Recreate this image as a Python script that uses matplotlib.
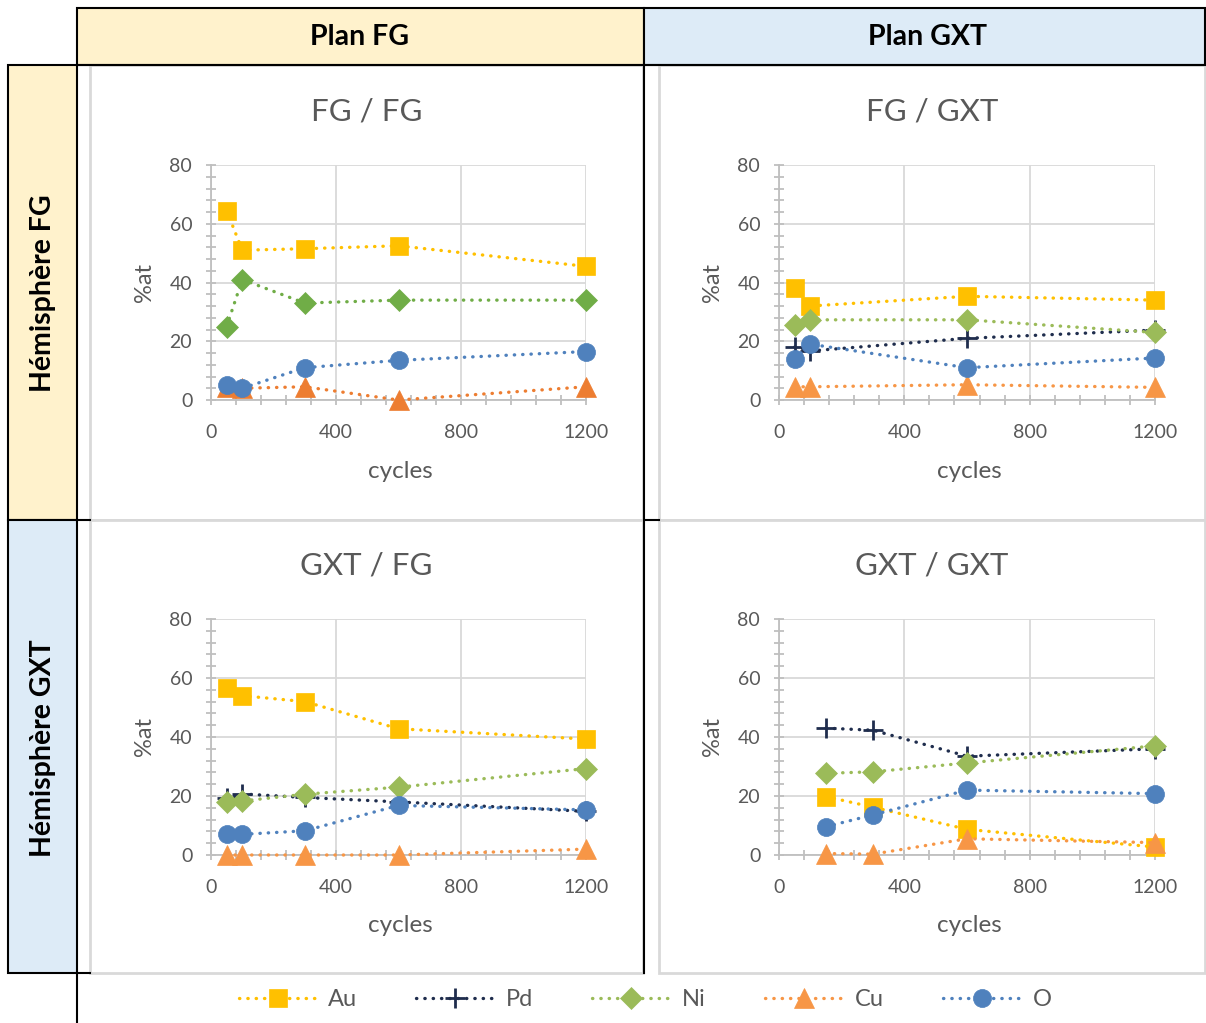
import matplotlib
matplotlib.use('Agg')
import matplotlib.pyplot as plt
from matplotlib.patches import Rectangle
from matplotlib.lines import Line2D
from matplotlib.ticker import MultipleLocator

plt.rcParams['font.family'] = ['Lato', 'DejaVu Sans']

# cycles for each panel
x_fgfg = [50, 100, 300, 600, 1200]
x_fggxt = [50, 100, 600, 1200]
x_gxtfg = [50, 100, 300, 600, 1200]
x_gxtgxt = [150, 300, 600, 1200]

# %at values
au_fgfg = [64.5, 51, 51.5, 52.5, 45.5]
ni_fgfg = [25, 41, 33, 34, 34]
cu_fgfg = [4.5, 4, 4.5, 0, 4.5]
o_fgfg = [5, 4, 11, 13.5, 16.5]

au_fggxt = [38, 32, 35.3, 34]
pd_fggxt = [18, 16.7, 21, 23.8]
ni_fggxt = [25.5, 27.3, 27.3, 23]
cu_fggxt = [4.5, 4.5, 5.2, 4.3]
o_fggxt = [14, 19, 11, 14.3]

au_gxtfg = [56.5, 54, 52, 42.8, 39.3]
pd_gxtfg = [19.2, 20.7, 19.5, 18, 14.8]
ni_gxtfg = [18.1, 18.3, 20.6, 23, 29.3]
cu_gxtfg = [0, 0, 0, 0, 2]
o_gxtfg = [7, 7, 8.2, 16.8, 15.3]

au_gxtgxt = [19.8, 16.2, 8.7, 2.7]
pd_gxtgxt = [43, 42.3, 33.5, 36]
ni_gxtgxt = [27.7, 28.2, 31.2, 37]
cu_gxtgxt = [0.5, 0.3, 5.5, 4.2]
o_gxtgxt = [9.6, 13.6, 22, 20.8]

titles = ['FG / FG', 'FG / GXT', 'GXT / FG', 'GXT / GXT']
col_headers = ['Plan FG', 'Plan GXT']
row_headers = ['Hémisphère FG', 'Hémisphère GXT']
elements = ['Au', 'Pd', 'Ni', 'Cu', 'O']

W, H = 1206, 1023
fig = plt.figure(figsize=(W / 100, H / 100), dpi=100)

# background "table" drawn in pixel coordinates
bg = fig.add_axes([0, 0, 1, 1])
bg.set_xlim(0, W)
bg.set_ylim(H, 0)
bg.axis('off')

yellow = '#FFF2CC'
blue = '#DDEBF7'
gray_border = '#D9D9D9'


def rect(x0, y0, x1, y1, fc, ec, lw):
    bg.add_patch(Rectangle((x0, y0), x1 - x0, y1 - y0, facecolor=fc,
                           edgecolor=ec, linewidth=lw))


rect(77, 8, 644, 65, yellow, 'black', 1.5)
rect(644, 8, 1205, 65, blue, 'black', 1.5)
rect(8, 65, 77, 520, yellow, 'black', 1.5)
rect(8, 520, 77, 973, blue, 'black', 1.5)
for (x0, y0, x1, y1) in [(90, 65, 643, 520), (659, 65, 1205, 520),
                         (90, 520, 643, 973), (659, 520, 1205, 973)]:
    rect(x0, y0, x1, y1, 'white', gray_border, 2)
bg.plot([77, 77], [973, 1023], color='black', lw=1.5)
bg.plot([644, 644], [65, 973], color='black', lw=1.5)
bg.plot([644, 659], [520, 520], color='black', lw=1.5)
bg.plot([77, 90], [520, 520], color='black', lw=1.5)
bg.plot([77, 90], [973, 973], color='black', lw=1.5)
bg.plot([77, 1205], [65, 65], color='black', lw=1.5)

bg.text(360, 37, col_headers[0], ha='center', va='center', fontsize=20.5,
        fontweight='bold')
bg.text(927, 37, col_headers[1], ha='center', va='center', fontsize=20.5,
        fontweight='bold')
bg.text(43, 293, row_headers[0], ha='center', va='center', fontsize=20.5,
        fontweight='bold', rotation=90)
bg.text(43, 748, row_headers[1], ha='center', va='center', fontsize=20.5,
        fontweight='bold', rotation=90)

text_gray = '#595959'
au_c = '#FFC000'
pd_c = '#1F2D4D'
o_c = '#4F81BD'

panels = [
    (x_fgfg, {'Au': au_fgfg, 'Ni': ni_fgfg, 'Cu': cu_fgfg, 'O': o_fgfg},
     '#70AD47', '#ED7D31'),
    (x_fggxt, {'Au': au_fggxt, 'Pd': pd_fggxt, 'Ni': ni_fggxt,
               'Cu': cu_fggxt, 'O': o_fggxt}, '#9BBB59', '#F79646'),
    (x_gxtfg, {'Au': au_gxtfg, 'Pd': pd_gxtfg, 'Ni': ni_gxtfg,
               'Cu': cu_gxtfg, 'O': o_gxtfg}, '#9BBB59', '#F79646'),
    (x_gxtgxt, {'Au': au_gxtgxt, 'Pd': pd_gxtgxt, 'Ni': ni_gxtgxt,
                'Cu': cu_gxtgxt, 'O': o_gxtgxt}, '#9BBB59', '#F79646'),
]

markers = {'Au': ('s', 13), 'Pd': ('+', 15), 'Ni': ('D', 11),
           'Cu': ('^', 14), 'O': ('o', 13)}

# plot-area pixel boxes: left, top, right, bottom
boxes = [(211, 165, 586, 400), (779, 165, 1155, 400),
         (211, 619, 586, 855), (779, 619, 1155, 855)]
dot = (0, (0.1, 2.4))

for i, ((xs, series, ni_c, cu_c), (l, t, r, b)) in enumerate(zip(panels, boxes)):
    ax = fig.add_axes([l / W, 1 - b / H, (r - l) / W, (b - t) / H])
    ax.set_facecolor('none')
    colors = {'Au': au_c, 'Pd': pd_c, 'Ni': ni_c, 'Cu': cu_c, 'O': o_c}
    for el in elements:
        if el not in series:
            continue
        m, ms = markers[el]
        ax.plot(xs, series[el], linestyle=dot, dash_capstyle='round',
                lw=2.4, color=colors[el], marker=m, markersize=ms,
                markeredgewidth=2 if el == 'Pd' else 0.5,
                markeredgecolor=colors[el], clip_on=False, zorder=3)
    ax.set_xlim(0, 1200)
    ax.set_ylim(0, 80)
    ax.xaxis.set_major_locator(MultipleLocator(400))
    ax.xaxis.set_minor_locator(MultipleLocator(80))
    ax.yaxis.set_major_locator(MultipleLocator(20))
    ax.yaxis.set_minor_locator(MultipleLocator(4))
    ax.grid(True, which='major', color=gray_border, lw=1.3)
    ax.set_axisbelow(True)
    for s in ['top', 'right']:
        ax.spines[s].set_visible(False)
    for s in ['left', 'bottom']:
        ax.spines[s].set_color('#BFBFBF')
        ax.spines[s].set_linewidth(1.3)
    ax.tick_params(which='both', direction='inout', length=7, width=1.3,
                   color='#BFBFBF', labelcolor=text_gray, labelsize=14)
    ax.tick_params(axis='y', pad=10)
    ax.tick_params(axis='x', pad=14)
    cx = (90 + 643) / 2 if i % 2 == 0 else (659 + 1205) / 2
    ty = 111 if i < 2 else 565
    bg.text(cx, ty, titles[i], ha='center', va='center', fontsize=22.5,
            color=text_gray)
    bg.text(l - 66, (t + b) / 2, '%at', ha='center', va='center',
            fontsize=17, color=text_gray, rotation=90)
    bg.text((l + r) / 2 + 2, b + 71, 'cycles', ha='center', va='center',
            fontsize=17.5, color=text_gray)

handles = []
leg_colors = {'Au': au_c, 'Pd': pd_c, 'Ni': '#9BBB59', 'Cu': '#F79646',
              'O': o_c}
for el in elements:
    m, ms = markers[el]
    handles.append(Line2D([], [], linestyle=dot, dash_capstyle='round',
                          lw=2.4, color=leg_colors[el], marker=m,
                          markersize=ms, markeredgewidth=2 if el == 'Pd' else 0.5))
leg = fig.legend(handles, elements, loc='center', ncol=5, frameon=False,
                 bbox_to_anchor=(645 / W, 1 - 1000 / H), fontsize=17,
                 handlelength=3.3, columnspacing=2.5, handletextpad=0.5)
for txt in leg.get_texts():
    txt.set_color(text_gray)

fig.savefig('out.png', dpi=100)
